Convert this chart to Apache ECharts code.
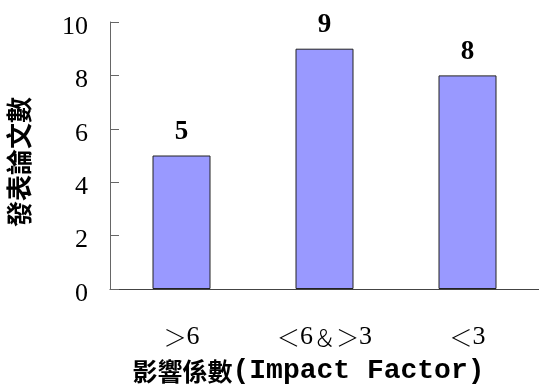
<!DOCTYPE html>
<html>
<head>
<meta charset="utf-8">
<script src="https://cdn.jsdelivr.net/npm/echarts@6/dist/echarts.min.js"></script>
<style>
  html, body { margin: 0; padding: 0; background: #fff; }
  #chart { width: 539px; height: 385px; }
</style>
</head>
<body>
<div id="chart"></div>
<script>
// Impact-factor groups and the number of papers published in each
const categories = ['＞6', '＜6＆＞3', '＜3'];
const paperCounts = [5, 9, 8];
const yTicks = { min: 0, max: 10, interval: 2 };

const serif = '"Liberation Serif", "Noto Sans CJK TC", serif';

// Full-width comparison signs get a slightly lighter, smaller style
function styleSymbols(text) {
  return text.replace(/[＞＜＆]/g, ch => '{s|' + ch + '}').replace(/([0-9]+)/g, '{d|$1}');
}

const chart = echarts.init(document.getElementById('chart'), null, { renderer: 'canvas' });

chart.setOption({
  animation: false,
  backgroundColor: '#ffffff',
  grid: { left: 110, right: 0, top: 22, bottom: 96, containLabel: false, outerBoundsMode: 'none' },
  xAxis: {
    type: 'category',
    data: categories,
    axisLine: { lineStyle: { color: '#444', width: 1 } },
    axisTick: { inside: true, length: 9, lineStyle: { color: '#555' } },
    axisLabel: {
      interval: 0,
      hideOverlap: false,
      margin: 35,
      color: '#000',
      formatter: styleSymbols,
      rich: {
        s: { fontFamily: '"Noto Sans CJK TC"', fontWeight: 300, fontSize: 23, color: '#000' },
        d: { fontFamily: serif, fontSize: 26, color: '#000' }
      }
    },
    name: '{cjk|影響係數}{lat|(Impact Factor)}',
    nameLocation: 'middle',
    nameGap: 68,
    nameTextStyle: {
      padding: [0, 32, 0, 0],
      rich: {
        cjk: { fontFamily: '"Noto Sans CJK TC"', fontWeight: 'bold', fontSize: 25, color: '#000' },
        lat: { fontFamily: '"Liberation Mono", monospace', fontWeight: 'bold', fontSize: 28, color: '#000' }
      }
    }
  },
  yAxis: {
    type: 'value',
    min: yTicks.min,
    max: yTicks.max,
    interval: yTicks.interval,
    splitLine: { show: false },
    axisLine: { show: true, lineStyle: { color: '#666', width: 1 } },
    axisTick: { show: true, inside: true, length: 9, lineStyle: { color: '#666' } },
    axisLabel: {
      margin: 22,
      formatter: '{v|{value}}',
      rich: {
        v: { fontFamily: serif, fontSize: 26, color: '#000', padding: [10, 0, 0, 0] }
      }
    },
    name: '發表論文數',
    nameLocation: 'middle',
    nameGap: 78,
    nameTextStyle: {
      fontFamily: '"Noto Sans CJK TC"',
      fontWeight: 'bold',
      fontSize: 26,
      color: '#000',
      padding: [0, 13, 0, 0]
    }
  },
  series: [{
    type: 'bar',
    data: paperCounts,
    barWidth: 58,
    itemStyle: { color: '#9999ff', borderColor: '#222', borderWidth: 1 },
    label: {
      show: true,
      position: 'top',
      distance: 10,
      color: '#000',
      fontFamily: serif,
      fontWeight: 'bold',
      fontSize: 27
    }
  }]
});
</script>
</body>
</html>
